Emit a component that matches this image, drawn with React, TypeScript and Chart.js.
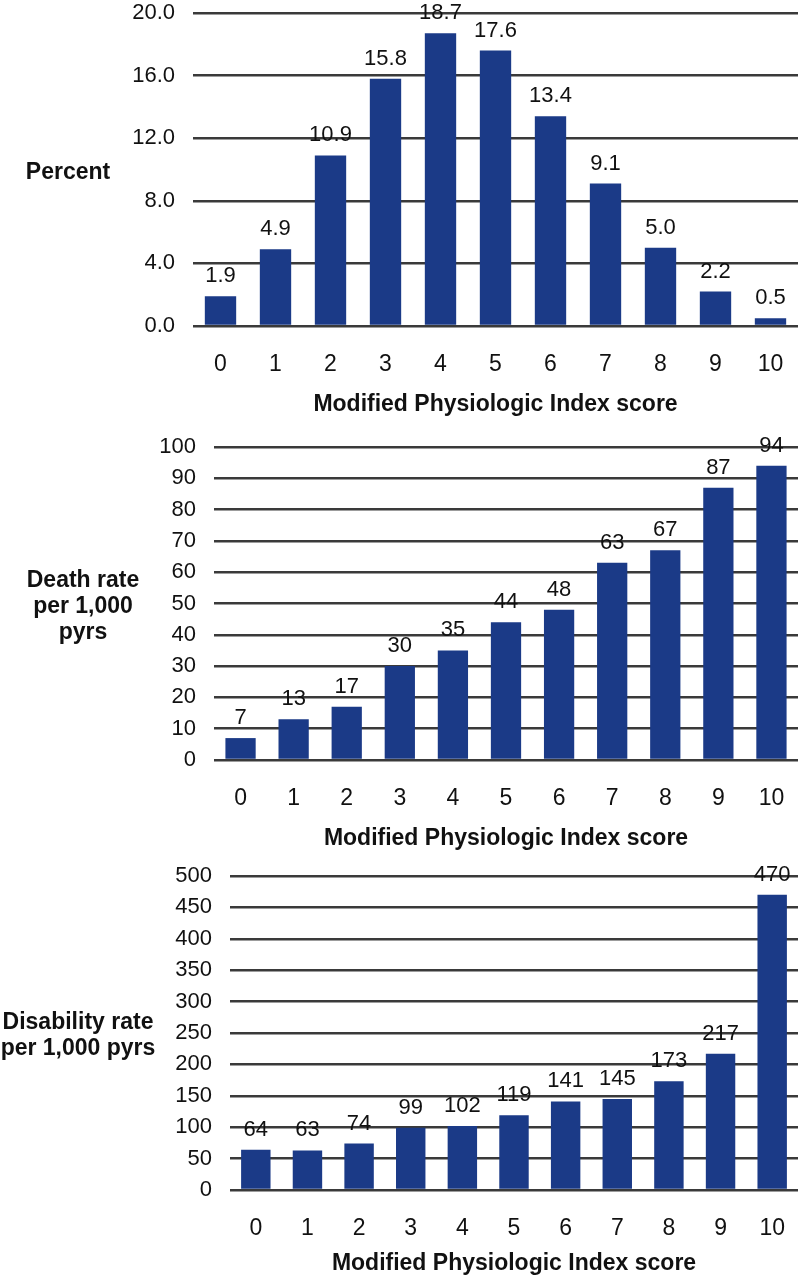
import React, { useEffect, useRef } from "react";
import { Chart, registerables } from "chart.js";

Chart.register(...registerables);

const scores = ["0", "1", "2", "3", "4", "5", "6", "7", "8", "9", "10"];
const percentValues = [1.9, 4.9, 10.9, 15.8, 18.7, 17.6, 13.4, 9.1, 5.0, 2.2, 0.5];
const deathValues = [7, 13, 17, 30, 35, 44, 48, 63, 67, 87, 94];
const disabilityValues = [64, 63, 74, 99, 102, 119, 141, 145, 173, 217, 470];
const xTitle = "Modified Physiologic Index score";
const percentTitle = ["Percent"];
const deathTitle = ["Death rate", "per 1,000", "pyrs"];
const disabilityTitle = ["Disability rate", "per 1,000 pyrs"];

const FONT = "'Liberation Sans', Arial, Helvetica, sans-serif";
const BAR = "#1b3a87";
const GRID = "#3a3a3a";

type PanelProps = {
  height: number;
  values: number[];
  max: number;
  step: number;
  decimals: number;
  plotLeft: number;
  padTop: number;
  xAxisHeight: number;
  xTitleOffset: number;
  yTitle: string[];
  yTitleX: number;
};

function BarPanel(p: PanelProps) {
  const ref = useRef<HTMLCanvasElement | null>(null);
  useEffect(() => {
    const canvas = ref.current;
    if (!canvas) return;
    const textPlugin = {
      id: "panelText",
      afterDatasetsDraw(chart: any) {
        const ctx = chart.ctx;
        const meta = chart.getDatasetMeta(0);
        ctx.save();
        ctx.font = `22px ${FONT}`;
        ctx.fillStyle = "#111";
        ctx.textAlign = "center";
        ctx.textBaseline = "alphabetic";
        meta.data.forEach((el: any, i: number) => {
          const v = p.values[i];
          ctx.fillText(v.toFixed(p.decimals), el.x, el.y - 14);
        });
        ctx.restore();
      },
      afterDraw(chart: any) {
        const ctx = chart.ctx;
        const a = chart.chartArea;
        const cy = (a.top + a.bottom) / 2 + 3;
        const lh = 26;
        ctx.save();
        ctx.font = `bold 23px ${FONT}`;
        ctx.fillStyle = "#111";
        ctx.textAlign = "center";
        ctx.textBaseline = "middle";
        const n = p.yTitle.length;
        p.yTitle.forEach((t, i) => {
          ctx.fillText(t, p.yTitleX, cy + (i - (n - 1) / 2) * lh);
        });
        ctx.fillText(xTitle, (a.left + a.right) / 2, a.bottom + p.xTitleOffset);
        ctx.restore();
      },
    };
    const chart = new Chart(canvas, {
      type: "bar",
      data: {
        labels: scores,
        datasets: [
          {
            data: p.values,
            backgroundColor: BAR,
            borderWidth: 0,
            barPercentage: 0.57,
            categoryPercentage: 1,
          },
        ],
      },
      options: {
        responsive: false,
        animation: false,
        devicePixelRatio: 1,
        layout: { padding: { top: p.padTop, bottom: 0, left: 0, right: 0 } },
        plugins: { legend: { display: false }, tooltip: { enabled: false } },
        scales: {
          x: {
            grid: { display: false, drawTicks: false },
            border: { display: false },
            ticks: { color: "#111", font: { family: FONT, size: 23 }, padding: 25, maxRotation: 0, autoSkip: false },
            afterFit: (scale: any) => {
              scale.height = p.xAxisHeight;
              scale.paddingLeft = 0;
              scale.paddingRight = 0;
            },
          },
          y: {
            min: 0,
            max: p.max,
            grid: { color: GRID, lineWidth: 2.5, drawTicks: false },
            border: { display: false },
            ticks: {
              stepSize: p.step,
              autoSkip: false,
              color: "#111",
              font: { family: FONT, size: 22 },
              padding: 18,
              callback: (v: any) => Number(v).toFixed(p.decimals),
            },
            afterFit: (scale: any) => {
              scale.width = p.plotLeft;
              scale.paddingTop = 0;
              scale.paddingBottom = 0;
            },
          },
        },
      },
      plugins: [textPlugin],
    } as any);
    return () => chart.destroy();
  }, []);
  return (
    <canvas
      ref={ref}
      width={798}
      height={p.height}
      style={{ display: "block", width: 798, height: p.height }}
    />
  );
}

export default function App() {
  return (
    <div style={{ position: "absolute", left: 0, top: 0, width: 798, height: 1280, background: "#fff" }}>
      <BarPanel
        height={420}
        values={percentValues}
        max={20}
        step={4}
        decimals={1}
        plotLeft={193}
        padTop={13}
        xAxisHeight={94}
        xTitleOffset={79}
        yTitle={percentTitle}
        yTitleX={68}
      />
      <BarPanel
        height={440}
        values={deathValues}
        max={100}
        step={10}
        decimals={0}
        plotLeft={214}
        padTop={27}
        xAxisHeight={100}
        xTitleOffset={79}
        yTitle={deathTitle}
        yTitleX={83}
      />
      <BarPanel
        height={420}
        values={disabilityValues}
        max={500}
        step={50}
        decimals={0}
        plotLeft={230}
        padTop={16}
        xAxisHeight={90}
        xTitleOffset={74}
        yTitle={disabilityTitle}
        yTitleX={78}
      />
    </div>
  );
}
